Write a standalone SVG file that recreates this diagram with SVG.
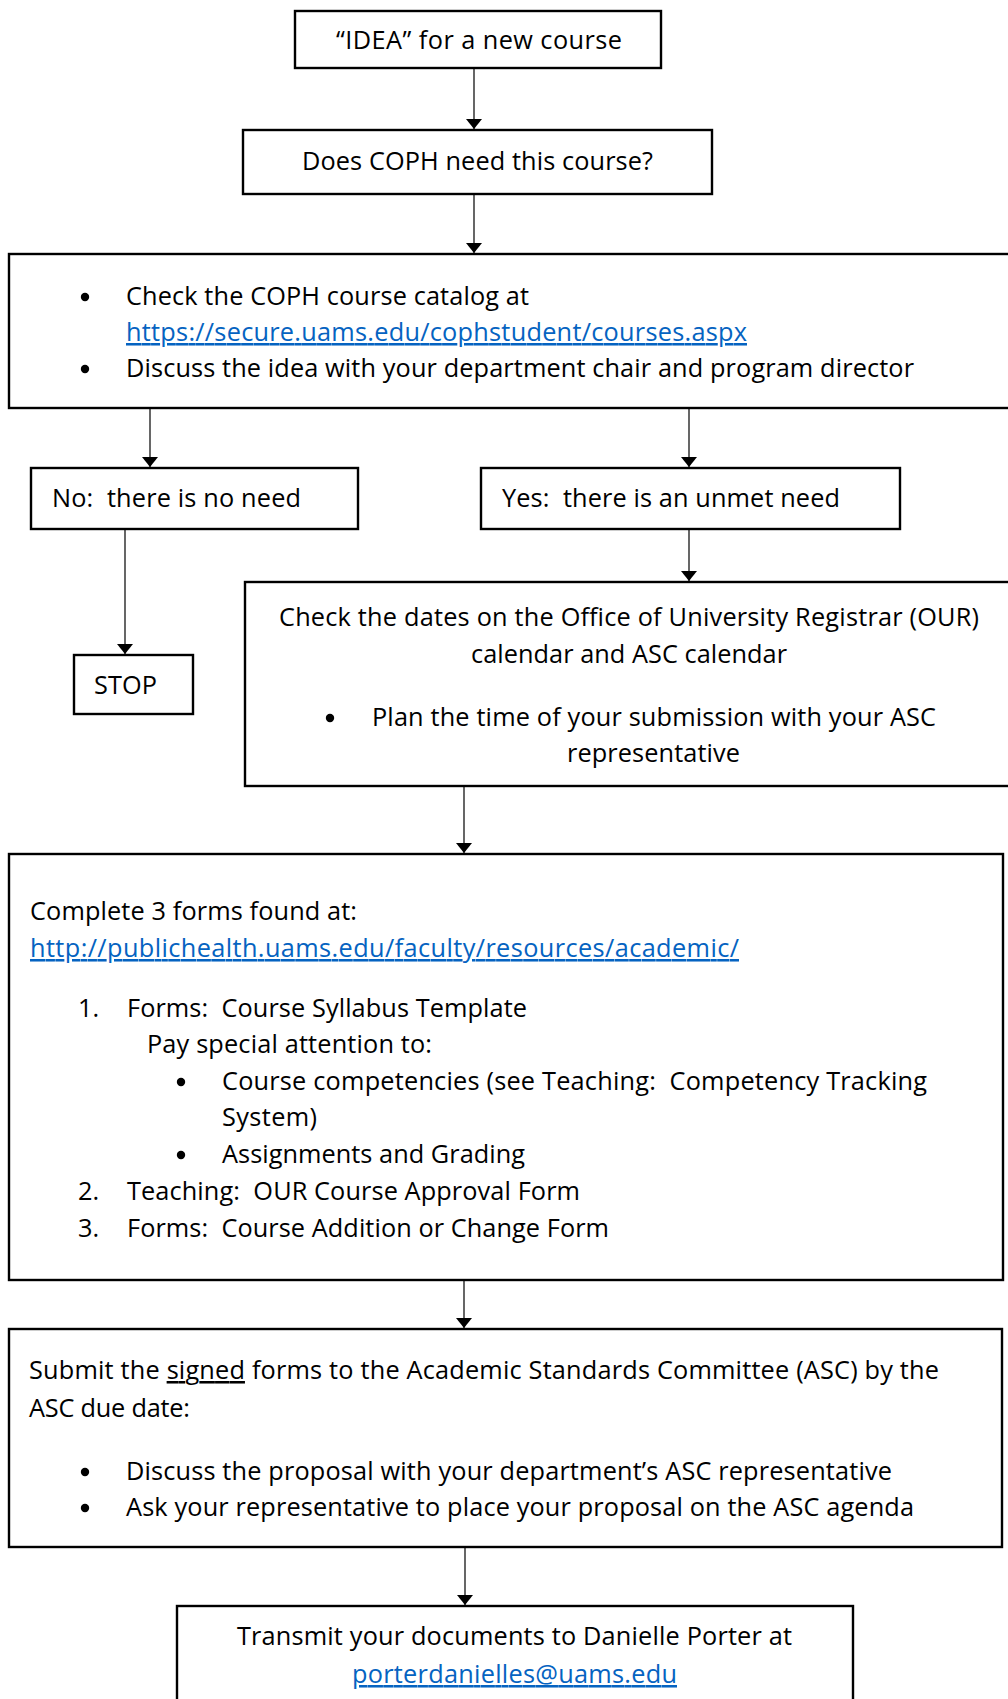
<svg xmlns="http://www.w3.org/2000/svg" width="1008" height="1699" viewBox="0 0 1008 1699">
<style>
.t{font-family:"Open Sans","Liberation Sans",sans-serif;font-size:25.3px;fill:#000}
.lnk{fill:#0563C1;text-decoration:underline}
.box{fill:#fff;stroke:#000;stroke-width:2.4}
.conn line{stroke:#000;stroke-width:1.2;marker-end:url(#ah)}
.dot{fill:#000}
</style>
<defs>
<marker id="ah" viewBox="0 0 10 16" refX="10" refY="8" markerWidth="10" markerHeight="16" markerUnits="userSpaceOnUse" orient="auto-start-reverse">
<path d="M0,0 L10,8 L0,16 z" fill="#000"/>
</marker>
</defs>
<rect width="1008" height="1699" fill="#fff"/>

<g id="connectors" class="conn">
<line x1="474" y1="68" x2="474" y2="129"/>
<line x1="474" y1="194" x2="474" y2="253"/>
<line x1="150" y1="408" x2="150" y2="467"/>
<line x1="689" y1="408" x2="689" y2="467"/>
<line x1="125" y1="529" x2="125" y2="654"/>
<line x1="689" y1="529" x2="689" y2="581"/>
<line x1="464" y1="786" x2="464" y2="853"/>
<line x1="464" y1="1280" x2="464" y2="1328"/>
<line x1="465" y1="1547" x2="465" y2="1605"/>
</g>

<g id="n-idea">
<rect class="box" x="295" y="11" width="366" height="57"/>
<text class="t" x="336" y="49" textLength="286" lengthAdjust="spacing">“IDEA” for a new course</text>
</g>

<g id="n-need">
<rect class="box" x="243" y="130" width="469" height="64"/>
<text class="t" x="302" y="170" textLength="351" lengthAdjust="spacing">Does COPH need this course?</text>
</g>

<g id="n-check">
<rect class="box" x="9" y="254" width="1012" height="154"/>
<circle class="dot" cx="85" cy="297" r="4.2"/>
<text class="t" x="126" y="305" textLength="403" lengthAdjust="spacing">Check the COPH course catalog at</text>
<text class="t lnk" x="126" y="341" textLength="621" lengthAdjust="spacing">https://secure.uams.edu/cophstudent/courses.aspx</text>
<circle class="dot" cx="85" cy="369" r="4.2"/>
<text class="t" x="126" y="377" textLength="788" lengthAdjust="spacing">Discuss the idea with your department chair and program director</text>
</g>

<g id="n-no">
<rect class="box" x="31" y="468" width="327" height="61"/>
<text class="t" x="52" y="507" textLength="249" lengthAdjust="spacing" xml:space="preserve">No:  there is no need</text>
</g>

<g id="n-yes">
<rect class="box" x="481" y="468" width="419" height="61"/>
<text class="t" x="502" y="507" textLength="338" lengthAdjust="spacing" xml:space="preserve">Yes:  there is an unmet need</text>
</g>

<g id="n-stop">
<rect class="box" x="74" y="655" width="119" height="59"/>
<text class="t" x="94" y="694" textLength="63" lengthAdjust="spacing">STOP</text>
</g>

<g id="n-dates">
<rect class="box" x="245" y="582" width="780" height="204"/>
<text class="t" x="279" y="626" textLength="700" lengthAdjust="spacing">Check the dates on the Office of University Registrar (OUR)</text>
<text class="t" x="471" y="663" textLength="316" lengthAdjust="spacing">calendar and ASC calendar</text>
<circle class="dot" cx="330" cy="718" r="4.2"/>
<text class="t" x="372" y="726" textLength="564" lengthAdjust="spacing">Plan the time of your submission with your ASC</text>
<text class="t" x="567" y="762" textLength="173" lengthAdjust="spacing">representative</text>
</g>

<g id="n-forms">
<rect class="box" x="9" y="854" width="994" height="426"/>
<text class="t" x="30" y="920" textLength="327" lengthAdjust="spacing">Complete 3 forms found at:</text>
<text class="t lnk" x="30" y="957" textLength="709" lengthAdjust="spacing">http://publichealth.uams.edu/faculty/resources/academic/</text>
<text class="t" x="78" y="1017">1.</text>
<text class="t" x="127" y="1017" textLength="400" lengthAdjust="spacing" xml:space="preserve">Forms:  Course Syllabus Template</text>
<text class="t" x="147" y="1053" textLength="285" lengthAdjust="spacing">Pay special attention to:</text>
<circle class="dot" cx="181" cy="1082" r="4.2"/>
<text class="t" x="222" y="1090" textLength="705" lengthAdjust="spacing" xml:space="preserve">Course competencies (see Teaching:  Competency Tracking</text>
<text class="t" x="222" y="1126" textLength="95" lengthAdjust="spacing">System)</text>
<circle class="dot" cx="181" cy="1155" r="4.2"/>
<text class="t" x="222" y="1163" textLength="303" lengthAdjust="spacing">Assignments and Grading</text>
<text class="t" x="78" y="1200">2.</text>
<text class="t" x="127" y="1200" textLength="453" lengthAdjust="spacing" xml:space="preserve">Teaching:  OUR Course Approval Form</text>
<text class="t" x="78" y="1237">3.</text>
<text class="t" x="127" y="1237" textLength="482" lengthAdjust="spacing" xml:space="preserve">Forms:  Course Addition or Change Form</text>
</g>

<g id="n-submit">
<rect class="box" x="9" y="1329" width="993" height="218"/>
<text class="t" x="29" y="1379" textLength="910" lengthAdjust="spacing">Submit the <tspan text-decoration="underline">signed</tspan> forms to the Academic Standards Committee (ASC) by the</text>
<text class="t" x="29" y="1417" textLength="161" lengthAdjust="spacing">ASC due date:</text>
<circle class="dot" cx="85" cy="1472" r="4.2"/>
<text class="t" x="126" y="1480" textLength="766" lengthAdjust="spacing">Discuss the proposal with your department’s ASC representative</text>
<circle class="dot" cx="85" cy="1508" r="4.2"/>
<text class="t" x="126" y="1516" textLength="788" lengthAdjust="spacing">Ask your representative to place your proposal on the ASC agenda</text>
</g>

<g id="n-transmit">
<rect class="box" x="177" y="1606" width="676" height="120"/>
<text class="t" x="237" y="1645" textLength="555" lengthAdjust="spacing">Transmit your documents to Danielle Porter at</text>
<text class="t lnk" x="352" y="1683" textLength="325" lengthAdjust="spacing">porterdanielles@uams.edu</text>
</g>
</svg>
